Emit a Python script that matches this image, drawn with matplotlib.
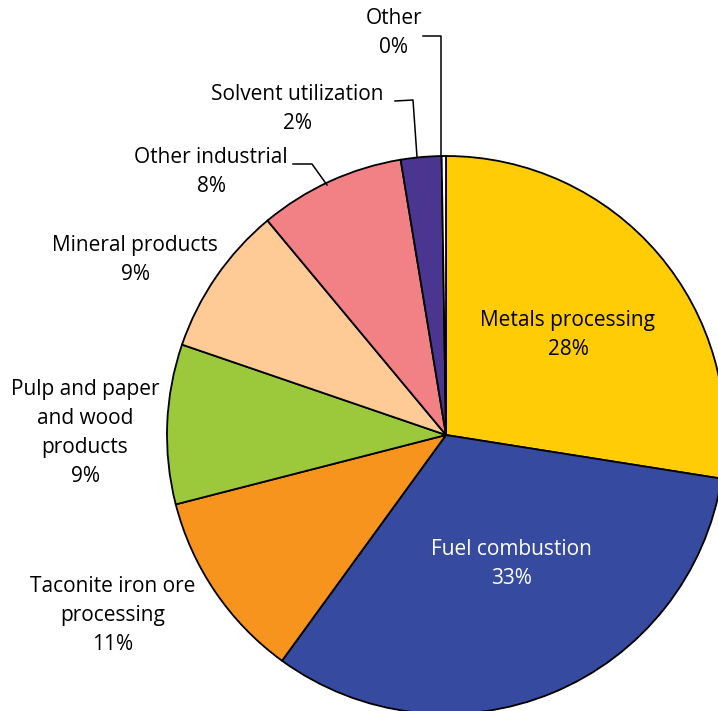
import numpy as np
import matplotlib
matplotlib.use("Agg")
import matplotlib.pyplot as plt

plt.rcParams["font.family"] = ["Open Sans", "DejaVu Sans"]

# Emission shares by source category (percent), clockwise from 12 o'clock
categories = [
    "Metals processing",
    "Fuel combustion",
    "Taconite iron ore\nprocessing",
    "Pulp and paper\nand wood\nproducts",
    "Mineral products",
    "Other industrial",
    "Solvent utilization",
    "Other",
]
shares = [27.5, 32.5, 11.0, 9.25, 8.7, 8.45, 2.35, 0.25]
colors = ["#ffcc05", "#364a9f", "#f7941d", "#9bc93b",
          "#fecb96", "#f28185", "#4a3591", "#ffffff"]

# label anchor points (pixel space, origin at top-left) and text colours
label_pos = [(568, 335), (511, 564), (113, 615), (85, 433),
             (135, 260), (211, 172), (297, 109), (394, 33)]
label_color = ["black", "white", "black", "black",
               "black", "black", "black", "black"]

# leader lines for the small slices: text end -> wedge edge
leaders = {
    5: [(293, 164), (312, 164), (327, 185)],
    6: [(395, 101), (413, 100), (417, 157)],
    7: [(423, 36), (441, 36), (441, 156)],
}

W, H = 718, 711
fig = plt.figure(figsize=(W / 100, H / 100), dpi=100)
ax = fig.add_axes([0, 0, 1, 1])

cx, cy, r = 446, H - 435, 279
ax.pie(shares, colors=colors, startangle=90, counterclock=False,
       center=(cx, cy), radius=r, frame=True,
       wedgeprops=dict(edgecolor="black", linewidth=1.3))
ax.set_xlim(0, W)
ax.set_ylim(0, H)
ax.set_aspect("equal")
ax.axis("off")

for i, (name, v) in enumerate(zip(categories, shares)):
    x, y = label_pos[i]
    pct = int(np.floor(v + 0.5))
    ax.text(x, H - y, f"{name}\n{pct}%", ha="center", va="center",
            fontsize=15, color=label_color[i], linespacing=1.5)

for i, pts in leaders.items():
    xs = [p[0] for p in pts]
    ys = [H - p[1] for p in pts]
    ax.plot(xs, ys, color="black", linewidth=1.1)

fig.savefig("out.png", dpi=100)
